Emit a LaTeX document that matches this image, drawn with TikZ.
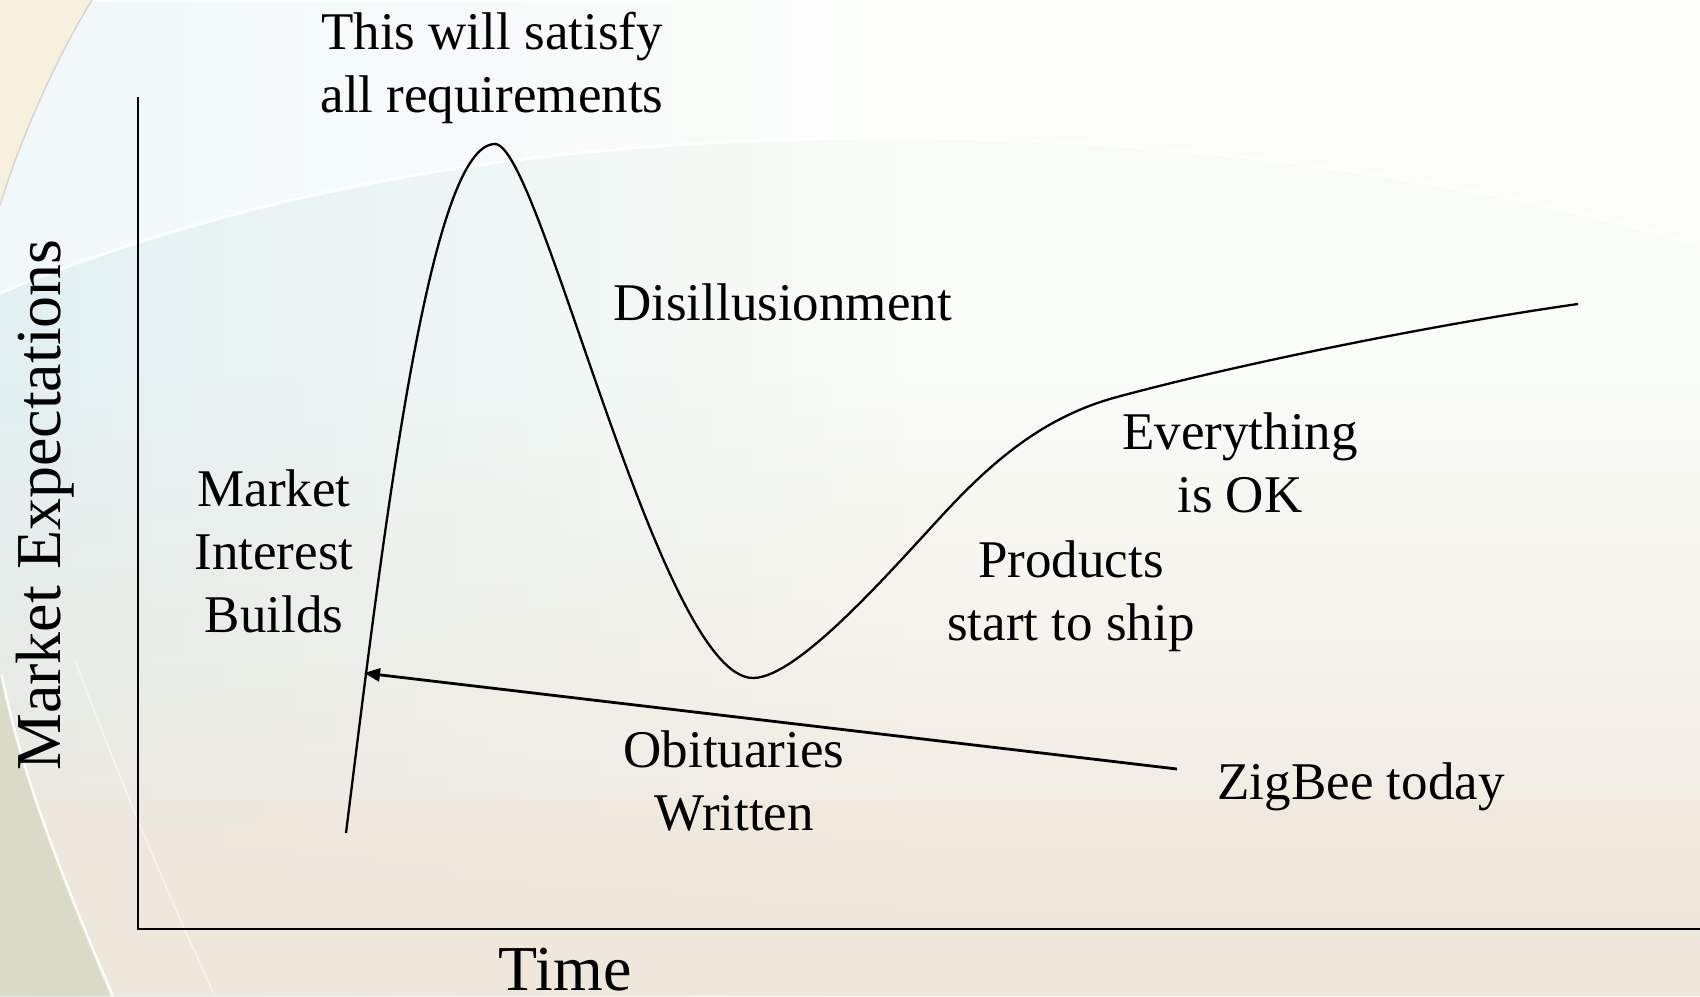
\documentclass[tikz,border=0pt]{standalone}
\usepackage{fontspec}
\setmainfont{Liberation Serif}
\usetikzlibrary{arrows.meta,fadings}
\definecolor{bgleft}{HTML}{E2F0F2}
\definecolor{bgright}{HTML}{FAFCF8}
\definecolor{bgbot}{HTML}{EFE7DB}
\definecolor{cream}{HTML}{F6F1DD}
\definecolor{sage}{HTML}{DADBC7}
\definecolor{arcgrey}{HTML}{D6D6CC}
\tikzfading[name=fadeupward, top color=transparent!100, bottom color=transparent!0]
\tikzfading[name=faderight, left color=transparent!0, right color=transparent!100]
\begin{document}
\begin{tikzpicture}[x=1pt,y=-1pt,
  lbl/.style={font=\fontsize{53}{63}\selectfont, align=center, inner sep=0pt, anchor=base},
  axlbl/.style={font=\fontsize{64}{70}\selectfont, inner sep=0pt, anchor=base},
  hype/.style={line width=2.3pt, line join=round},
  axisline/.style={line width=2pt},
  ptr/.style={line width=2.8pt, -{Triangle[length=16pt,width=13pt]}}]
\useasboundingbox (0,0) rectangle (1700,996);
% background
\fill[bgright] (0,0) rectangle (1700,996);
\fill[bgleft, path fading=faderight] (0,0) rectangle (900,996);
\fill[white, opacity=0.55]
  (0,293) .. controls (300,170) and (600,138) .. (900,138)
  .. controls (1200,138) and (1500,185) .. (1700,245) -- (1700,0) -- (0,0) -- cycle;
\draw[white, line width=3pt, opacity=0.9]
  (0,293) .. controls (300,170) and (600,138) .. (900,138)
  .. controls (1200,138) and (1500,185) .. (1700,245);
\fill[bgbot, path fading=fadeupward] (0,380) rectangle (1700,996);
\fill[bgbot, opacity=0.5] (0,800) rectangle (1700,996);
\fill[cream] (0,0) -- (92,0) .. controls (55,60) and (20,140) .. (0,205) -- cycle;
\draw[arcgrey, line width=1.5pt] (92,0) .. controls (55,60) and (20,140) .. (0,205);
\fill[sage] (0,675) .. controls (20,780) and (70,900) .. (110,996) -- (0,996) -- cycle;
\draw[white, line width=2pt] (2,675) .. controls (22,780) and (72,900) .. (113,996);
\draw[white, line width=1.5pt, opacity=0.5] (75,660) .. controls (120,780) and (170,900) .. (215,996);
% axes
\draw[axisline] (138,97) -- (138,929) -- (1700,929);
% curve
\draw[hype] (346,833) .. controls (385,520) and (430,144) .. (495,144)
  .. controls (540,144) and (660,678) .. (753,678)
  .. controls (800,678) and (900,560) .. (950,507)
  .. controls (1000,454) and (1050,415) .. (1117,397)
  .. controls (1250,361) and (1450,322) .. (1578,304);
% arrow
\coordinate (zt) at (1177,769);
\coordinate (hit) at (364,673);
\draw[ptr] (zt) -- (hit);
% labels
\node[lbl] (top) at (492,112) {This will satisfy\\all requirements};
\node[lbl] (mib) at (274,632) {Market\\Interest\\Builds};
\node[lbl, anchor=base west] (dis) at (613,320) {Disillusionment};
\node[lbl] (eok) at (1240,512) {Everything\\is OK};
\node[lbl] (prod) at (1071,640) {Products\\start to ship};
\node[lbl] (obit) at (734,830) {Obituaries\\Written};
\node[lbl] (zig) at (1361,799) {ZigBee today};
\node[axlbl, rotate=90] (ylab) at (60,505) {Market Expectations};
\node[axlbl] (xlab) at (565,990) {Time};
\end{tikzpicture}
\end{document}
